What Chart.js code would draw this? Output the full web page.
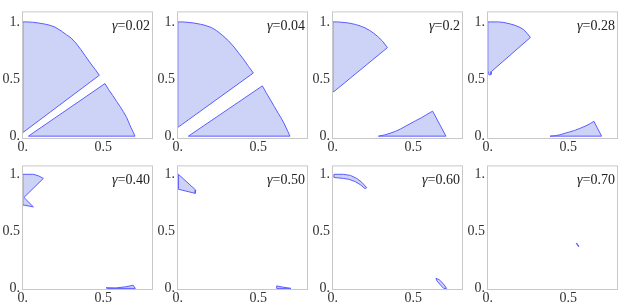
<!DOCTYPE html>
<html>
<head>
<meta charset="utf-8">
<script src="https://cdn.jsdelivr.net/npm/chart.js@4/dist/chart.umd.min.js"></script>
<style>
  body { margin: 0; background: #fff; width: 624px; height: 307px; position: relative; overflow: hidden; }
  canvas { position: absolute; }
</style>
</head>
<body>
<script>
// gamma value shown in each panel
const gammas = ['0.02', '0.04', '0.2', '0.28', '0.40', '0.50', '0.60', '0.70'];

// region near the top-left corner, one outline per panel
const upperRegions = [
  [[0,1],[0.03,1],[0.06,0.997],[0.1,0.99],[0.14,0.98],[0.17,0.97],[0.2,0.955],[0.24,0.92],[0.273,0.886],[0.3,0.86],[0.33,0.815],[0.36,0.76],[0.39,0.7],[0.42,0.64],[0.45,0.585],[0.476,0.533],[0.004,0.035],[0,0.035],[0,1]],
  [[0,1],[0.03,1],[0.07,0.995],[0.1,0.99],[0.14,0.98],[0.17,0.97],[0.21,0.95],[0.24,0.925],[0.28,0.88],[0.315,0.835],[0.35,0.78],[0.38,0.725],[0.408,0.675],[0.44,0.61],[0.47,0.553],[0.004,0.08],[0,0.08],[0,1]],
  [[0,1],[0.03,1],[0.07,0.995],[0.1,0.99],[0.14,0.978],[0.17,0.965],[0.2,0.948],[0.23,0.925],[0.255,0.9],[0.28,0.872],[0.31,0.83],[0.34,0.775],[0.007,0.39],[0,0.39],[0,1]],
  [[0,1],[0.066,1],[0.1,0.995],[0.14,0.982],[0.17,0.97],[0.2,0.952],[0.22,0.935],[0.245,0.9],[0.265,0.864],[0.022,0.565],[0.02,0.54],[0.008,0.535],[0.005,0.55],[0,0.57],[0,1]],
  [[0,1],[0.066,1],[0.1,0.985],[0.128,0.964],[0.007,0.797],[0.066,0.714],[0.007,0.73],[0,0.73],[0,1]],
  [[0.004,1],[0.112,0.861],[0.108,0.833],[0.004,0.869],[0.004,1]],
  [[0.007,1],[0.066,1],[0.11,0.99],[0.149,0.964],[0.18,0.93],[0.211,0.883],[0.2,0.875],[0.17,0.91],[0.139,0.936],[0.1,0.956],[0.066,0.964],[0.007,0.972],[0.007,1]],
  []
];

// region near the bottom edge, one outline per panel
const lowerRegions = [
  [[0.035,0],[0.698,0],[0.685,0.04],[0.668,0.09],[0.646,0.164],[0.625,0.215],[0.605,0.26],[0.584,0.303],[0.56,0.355],[0.535,0.405],[0.511,0.46],[0.035,0]],
  [[0.066,0],[0.698,0],[0.685,0.04],[0.66,0.115],[0.64,0.165],[0.625,0.2],[0.6,0.26],[0.573,0.325],[0.55,0.38],[0.526,0.44],[0.066,0]],
  [[0.284,0],[0.32,0.01],[0.356,0.025],[0.39,0.042],[0.42,0.062],[0.45,0.085],[0.48,0.108],[0.515,0.135],[0.55,0.16],[0.585,0.19],[0.621,0.219],[0.704,0],[0.284,0]],
  [[0.387,0],[0.42,0.004],[0.45,0.012],[0.48,0.025],[0.51,0.037],[0.54,0.05],[0.573,0.068],[0.61,0.09],[0.64,0.112],[0.66,0.13],[0.708,0],[0.387,0]],
  [[0.518,0.006],[0.58,0.004],[0.64,0.014],[0.687,0.028],[0.7,0],[0.525,0],[0.518,0.006]],
  [[0.615,0.022],[0.65,0.012],[0.704,0],[0.615,0],[0.615,0.022]],
  [[0.642,0.089],[0.663,0.075],[0.687,0.042],[0.708,0],[0.69,0],[0.671,0.028],[0.646,0.069],[0.642,0.089]],
  [[0.553,0.397],[0.567,0.369],[0.564,0.367],[0.55,0.395],[0.553,0.397]]
];

const xTicks = [0, 0.5];
const xTickLabels = ['0.', '0.5'];
const yTicks = [0, 0.5, 1];
const yTickLabels = ['0.', '0.5', '1.'];

const frameLeft = [22, 177, 332, 487];
const frameTop = [5, 159];
const frameH = [134, 131];
const frameW = 131;
const yMin = [-0.025, -0.014];
const yMax = [1.092, 1.078];

const fillColor = '#cdd3f6';
const edgeColor = '#5c5cff';
const serif = "'Liberation Serif', 'DejaVu Serif', serif";

const framePlugin = {
  id: 'frame',
  afterDraw(chart) {
    const { ctx, chartArea: a } = chart;
    ctx.save();
    ctx.strokeStyle = '#c8c8c8';
    ctx.lineWidth = 1;
    ctx.strokeRect(a.left + 0.5, a.top + 0.5, a.right - a.left - 1, a.bottom - a.top - 1);
    // gamma label, top right
    const g = chart.options.plugins.frame.gamma;
    ctx.fillStyle = '#222';
    ctx.textBaseline = 'alphabetic';
    ctx.font = '14px ' + serif;
    const rest = '=' + g;
    const wRest = ctx.measureText(rest).width;
    ctx.font = 'italic 14px ' + serif;
    const wG = ctx.measureText('γ').width;
    const xEnd = a.right - 3;
    const yBase = a.top + 19;
    ctx.fillText('γ', xEnd - wRest - wG, yBase);
    ctx.font = '14px ' + serif;
    ctx.fillText(rest, xEnd - wRest, yBase);
    ctx.restore();
  }
};

gammas.forEach((g, i) => {
  const row = Math.floor(i / 4), col = i % 4;
  const canvas = document.createElement('canvas');
  const w = 22 + frameW + 4, h = 4 + frameH[row] + 16;
  canvas.width = w; canvas.height = h;
  canvas.style.left = (frameLeft[col] - 22) + 'px';
  canvas.style.top = (frameTop[row] - 4) + 'px';
  canvas.style.width = w + 'px'; canvas.style.height = h + 'px';
  document.body.appendChild(canvas);

  const datasets = [upperRegions[i], lowerRegions[i]]
    .filter(p => p.length)
    .map(p => ({
      data: p.map(([x, y]) => ({ x, y })),
      fill: 'shape',
      backgroundColor: fillColor,
      borderColor: edgeColor,
      borderWidth: 1,
      pointRadius: 0,
      tension: 0
    }));

  new Chart(canvas.getContext('2d'), {
    type: 'line',
    data: { datasets },
    options: {
      responsive: false,
      animation: false,
      layout: { padding: { left: 0, top: 4, right: 4, bottom: 0 } },
      plugins: { legend: { display: false }, tooltip: { enabled: false }, frame: { gamma: g } },
      scales: {
        x: {
          type: 'linear', min: -0.005, max: 0.81,
          grid: { display: false, drawTicks: false }, border: { display: false },
          afterBuildTicks: s => { s.ticks = xTicks.map(v => ({ value: v })); },
          afterFit: s => { s.height = 16; },
          ticks: {
            padding: 0, maxRotation: 0, autoSkip: false, color: '#333',
            font: { family: serif, size: 14 },
            callback: v => xTickLabels[xTicks.indexOf(v)]
          }
        },
        y: {
          type: 'linear', min: yMin[row], max: yMax[row],
          grid: { display: false, drawTicks: false }, border: { display: false },
          afterBuildTicks: s => { s.ticks = yTicks.map(v => ({ value: v })); },
          afterFit: s => { s.width = 22; },
          ticks: {
            padding: 2, autoSkip: false, color: '#333',
            font: { family: serif, size: 14 },
            callback: v => yTickLabels[yTicks.indexOf(v)]
          }
        }
      }
    },
    plugins: [framePlugin]
  });
});
</script>
</body>
</html>
